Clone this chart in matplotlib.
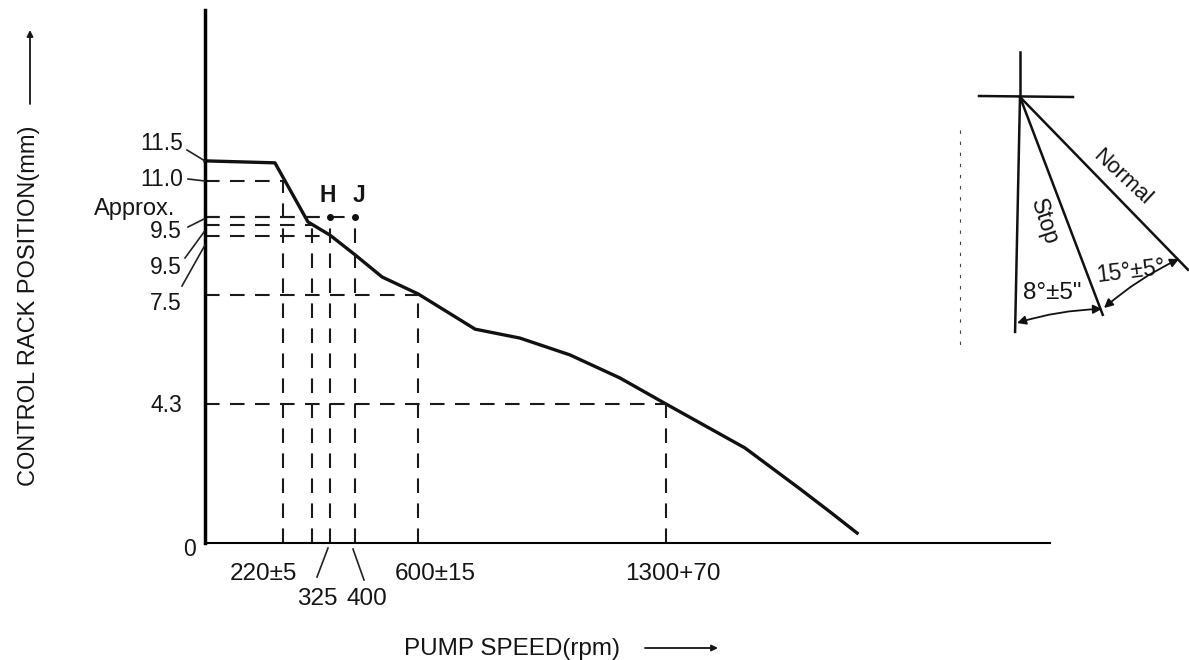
import numpy as np
import matplotlib
matplotlib.use('Agg')
import matplotlib.pyplot as plt

plt.rcParams['font.family'] = ['Liberation Sans', 'DejaVu Sans']

W, H = 1189, 660

# --- DATA ---
curve_rpm = [0, 197, 290, 352, 423, 499, 600, 761, 887, 1028, 1169, 1299, 1521, 1676, 1761, 1837]
curve_mm = [11.58, 11.52, 9.73, 9.33, 8.73, 8.06, 7.55, 6.48, 6.21, 5.70, 5.00, 4.21, 2.88, 1.64, 0.94, 0.30]

# speed, rack position of each dashed guide
guide_rpm = [220, 301, 352, 423, 600, 1299]
guide_mm = [10.97, 9.64, 9.88, 9.88, 7.52, 4.21]
extra_level_mm = 9.30
extra_level_rpm = 352

point_rpm = [352, 423]
point_mm = [9.88, 9.88]

# angles from the vertical, degrees, and length in pixels
ray_names = ['base', 'stop', 'normal']
ray_deg = [-1.2, 20.8, 44.2]
ray_len = [235, 233, 241]

# --- MAIN AXES ---
fig = plt.figure(figsize=(W / 100, H / 100), dpi=100)
ax = fig.add_axes([205 / W, 1 - 543 / H, 845 / W, 533 / H])
ax.set_xlim(0, 845 / 0.355)
ax.set_ylim(0, 533 / 33)
ax.patch.set_alpha(0)
ax.spines['top'].set_visible(False)
ax.spines['right'].set_visible(False)
ax.spines['left'].set_linewidth(2.5)
ax.spines['bottom'].set_linewidth(1.5)
ax.set_xticks([])
ax.set_yticks([])

ax.plot(curve_rpm, curve_mm, color='#111111', lw=2.4, solid_joinstyle='round', clip_on=False)

dash = dict(color='#1a1a1a', lw=1.5, dashes=(7, 5))
for r, m in zip(guide_rpm, guide_mm):
    ax.plot([0, r], [m, m], **dash)
    ax.plot([r, r], [0, m], **dash)
ax.plot([0, extra_level_rpm], [extra_level_mm, extra_level_mm], **dash)
ax.plot(point_rpm, point_mm, 'o', color='#111111', ms=4)

# --- OVERLAY IN PICTURE COORDINATES ---
ov = fig.add_axes([0, 0, 1, 1])
ov.set_xlim(0, W)
ov.set_ylim(H, 0)
ov.axis('off')
ov.patch.set_alpha(0)

txt = dict(color='#151515', fontsize=16.5, ha='center', va='center')
big = dict(txt, fontsize=17.5)
ov.text(162, 143, '11.5', **txt)
ov.text(162, 179, '11.0', **txt)
ov.text(135, 209, 'Approx.', **dict(txt, fontsize=17))
ov.text(166, 231, '9.5', **txt)
ov.text(166, 267, '9.5', **txt)
ov.text(166, 304, '7.5', **txt)
ov.text(166, 405, '4.3', **txt)
ov.text(189, 549, '0', **txt)
ov.text(328, 196, 'H', **dict(txt, fontweight='bold'))
ov.text(359, 196, 'J', **dict(txt, fontweight='bold'))
ov.text(263, 574, '220±5', **big)
ov.text(317, 599, '325', **big)
ov.text(367, 599, '400', **big)
ov.text(435, 574, '600±15', **big)
ov.text(673, 574, '1300+70', **big)

ov.text(29, 306, 'CONTROL RACK POSITION(mm)', color='#151515', fontsize=17,
        rotation=90, ha='center', va='center')
ov.text(512, 649, 'PUMP SPEED(rpm)', color='#151515', fontsize=17.5, ha='center', va='center')

arrow = dict(arrowstyle='-|>', color='#151515', lw=1.3, mutation_scale=9, shrinkA=0, shrinkB=0)
ov.annotate('', xy=(30, 30), xytext=(30, 104), arrowprops=arrow)
ov.annotate('', xy=(718, 648), xytext=(645, 648), arrowprops=arrow)

# leader lines to the axes
leader = [((187, 150), (205, 161)), ((188, 179), (205, 181)), ((188, 227), (204, 219)),
          ((185, 258), (204, 232)), ((182, 286), (205, 245)),
          ((328, 548), (317, 577)), ((353, 549), (364, 580))]
for a, b in leader:
    ov.plot([a[0], b[0]], [a[1], b[1]], color='#222222', lw=1.2)

# scan speckle beside the angle sketch
ov.plot([960, 960], [130, 345], color='#444444', lw=0.8, dashes=(3, 7))

# --- ANGLE SKETCH ---
px, py = 1020, 97
ov.plot([px, px], [52, py], color='#111111', lw=1.8)
ov.plot([979, 1073], [96, 97], color='#111111', lw=1.8)
for name, d, length in zip(ray_names, ray_deg, ray_len):
    ex = px + length * np.sin(np.radians(d))
    ey = py + length * np.cos(np.radians(d))
    ov.plot([px, ex], [py, ey], color='#111111', lw=1.8)

ov.text(1122, 177, 'Normal', color='#151515', fontsize=16, rotation=-43, ha='center', va='center')
ov.text(1044, 222, 'Stop', color='#151515', fontsize=16.5, rotation=-72, ha='center', va='center')
ov.text(1052, 293, '8°±5"', color='#151515', fontsize=17.5, ha='center', va='center')
ov.text(1131, 271, '15°±5°', color='#151515', fontsize=16.5, rotation=7, ha='center', va='center')

arc = dict(arrowstyle='<|-|>', color='#111111', lw=1.3, mutation_scale=13, shrinkA=0, shrinkB=0)
ov.annotate('', xy=(1017, 323), xytext=(1102, 309),
            arrowprops=dict(arc, connectionstyle='arc3,rad=0.07'))
ov.annotate('', xy=(1179, 259), xytext=(1104, 308),
            arrowprops=dict(arc, connectionstyle='arc3,rad=-0.07'))

fig.savefig('out.png', dpi=100, facecolor='white')
